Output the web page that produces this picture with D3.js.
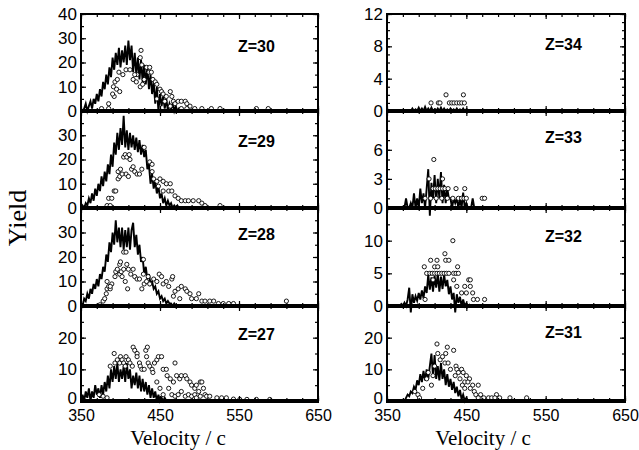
<!DOCTYPE html>
<html>
<head>
<meta charset="utf-8">
<script src="https://cdn.jsdelivr.net/npm/d3@7/dist/d3.min.js"></script>
<style>
  body { margin: 0; background: #fff; }
  .tick text { font-family: "Liberation Sans", Arial, sans-serif; font-size: 17px; fill: #000; }
  .xlab .tick text { font-size: 16px; }
  .tick line { stroke: #000; stroke-width: 1.2; }
</style>
</head>
<body>
<svg width="639" height="450"></svg>
<script>
// x axis
var xDomain = [350, 650];
var xTickLabels = [350, 450, 550, 650];
var binWidth = 2;

// simulated yield (histogram line), one value per 2 c bin from the start velocity
var z30Start = 352;
var z30Sim = [0,1,3,0,2,4,1,5,3,7,4,9,6,12,9,15,11,18,14,22,17,24,19,26,18,25,20,27,19,29,21,27,16,24,15,22,13,21,12,19,11,18,9,15,7,12,3,10,0,7,2,6,1,5,0,3,1,3,0,2,0,1,0,1,0,0];
var z29Start = 350;
var z29Sim = [0,1,0,2,1,4,2,6,3,8,5,10,7,13,9,15,11,18,14,22,17,27,22,31,24,33,26,38,25,32,24,31,25,30,24,29,23,28,22,26,21,24,16,18,10,14,8,11,6,9,4,6,2,4,1,3,1,2,0,1,0,1,0,0];
var z28Start = 350;
var z28Sim = [1,0,3,2,5,3,7,5,9,7,11,8,13,11,16,14,21,18,26,22,30,25,35,26,32,24,32,23,31,24,32,23,31,34,24,29,21,25,18,20,13,16,11,13,9,10,7,8,5,6,3,4,2,3,1,2,1,1,0,1,0,0];
var z27Start = 350;
var z27Sim = [0,2,0,3,1,4,0,3,1,5,2,4,1,5,2,6,3,8,4,10,6,11,7,12,6,10,7,11,6,12,7,10,4,8,5,9,4,8,3,7,3,6,2,5,1,4,1,3,0,2,0,1,0,1,0,0];
var z34Start = 380;
var z34Sim = [0,0.3,0,0.2,0,0.4,0,0.3,0,0.5,0,0.3,0,0.4,0,0.2,0,0.3,0,0.4,0,0.3,0,0.2,0,0.3,0,0.2,0,0.3,0,0.2,0,0.3,0,0.2,0,0.1,0,0.1,0];
var z33Start = 370;
var z33Sim = [0,0,1,0,0,0.5,0,1.5,0,1,0,2,0.5,1.5,0,2,4,-0.8,2.6,1,3.4,0.5,3,1,3.7,0.5,2.4,0.5,2,1,1,0,1,0.5,1,0,1,0,1.6,0,0.5,0,0,0,1,0];
var z32Start = 366;
var z32Sim = [0,0.3,0,0.5,0,1,2.8,-1,1.8,0.5,1.5,0.8,2,1,2.4,1.2,3,2,4.8,2.5,4.4,2.2,4.6,2.8,5,2.2,4.5,2.6,4.8,3,4,1.8,3,1,2,-1,1.8,0.5,1.4,0,1,0,0.4,0,0.2,0];
var z31Start = 368;
var z31Sim = [0,0.3,0,1,2,1.5,3,2.5,4.5,3.5,6.5,5,8.5,6,9.5,6.5,10,7,11,15,8,14.5,7,11,6.5,12,7,10,5,8.5,4.5,7,3.5,6,2.5,4.5,1.5,3.5,0.5,2,0,1,0,0.3,0];

// measured yield, [velocity, yield]
var z30Exp = [[376,1],[385,1],[385,3],[391,10],[393,12],[395,9],[399,8],[392,6],[390,7],[396,13],[398,16],[403,15],[407,17],[412,17],[416,13],[420,12],[425,10],[428,11],[421,15],[426,25],[425,22],[427,19],[433,18],[436,16],[437,18],[439,16],[441,13],[444,12],[446,11],[450,9],[452,8],[454,7],[458,6],[463,8],[465,6],[467,4],[469,3],[473,4],[477,4],[482,4],[484,3],[488,2],[494,1],[503,1],[515,1],[526,1],[572,1],[587,1],[446,5],[456,4],[463,2],[477,1],[484,1],[430,13],[418,15]];
var z29Exp = [[383,1],[387,1],[385,4],[389,4],[392,7],[394,7],[397,12],[399,13],[397,15],[400,16],[404,21],[406,22],[408,21],[411,22],[407,14],[410,13],[414,16],[416,17],[418,15],[421,14],[424,14],[427,16],[430,25],[437,19],[440,18],[440,15],[442,12],[446,11],[448,9],[450,12],[454,11],[458,10],[463,10],[461,7],[465,7],[454,7],[469,5],[473,4],[477,3],[482,3],[486,3],[492,3],[499,3],[503,2],[507,1],[526,1],[402,14],[412,20]];
var z28Exp = [[374,0.5],[378,2],[380,3],[382,5],[383,7],[385,8],[387,7],[389,9],[383,10],[387,8],[393,12],[394,14],[396,15],[399,17],[400,18],[399,13],[401,14],[404,15],[408,17],[410,15],[404,22],[407,22],[409,7],[406,10],[402,12],[413,13],[416,15],[418,12],[421,11],[424,11],[427,7],[429,13],[429,19],[430,9],[433,10],[435,12],[437,9],[442,11],[446,10],[449,13],[452,12],[454,9],[458,10],[461,8],[465,11],[466,12],[469,6],[473,7],[477,8],[482,7],[484,6],[467,4],[475,3],[488,5],[490,3],[496,3],[499,5],[503,2],[507,2],[513,2],[518,2],[524,1],[530,1],[537,1],[543,1],[610,2]];
var z27Exp = [[392,15],[393,12],[396,13],[399,12],[400,14],[402,13],[404,12],[406,11],[407,14],[410,13],[412,12],[415,11],[416,17],[418,16],[421,15],[421,14],[424,12],[425,11],[427,10],[430,10],[432,16],[434,17],[433,14],[435,12],[437,11],[440,10],[441,9],[443,12],[446,13],[448,14],[452,14],[454,10],[458,10],[459,8],[463,7],[467,6],[469,12],[471,8],[475,7],[477,8],[482,8],[484,7],[488,6],[490,5],[494,4],[496,5],[501,6],[503,6],[499,3],[505,4],[507,2],[509,1.5],[513,1.5],[522,1],[528,1],[534,1],[543,0.6],[551,0.5],[560,0.5],[572,0.5],[589,0.5],[446,6],[450,4],[454,2],[461,4],[465,2],[469,1.5],[473,2],[477,3],[482,1.5],[486,2],[490,1.5],[494,2],[496,1],[501,1.5],[378,1.5],[383,1],[373,2],[387,11]];
var z34Exp = [[405.5,1],[414.7,1],[416.8,1],[424.4,2],[428.6,1],[431.6,1],[434.5,1],[437.9,1],[441.2,1],[444.2,1],[447.5,1],[446.3,2]];
var z33Exp = [[409,5],[403,3],[420,3],[408,2],[411,2],[414,2],[417,2],[420,2],[423,2],[427,2],[437,2],[448,2],[398,1],[405,1],[412,1],[419,1],[426,1],[433,1],[440,1],[444,1],[447,1],[450,1],[470,1],[473,1]];
var z32Exp = [[433,10],[423,8],[405,7],[413,7],[424,7],[428,7],[397,6],[410,6],[414,6],[439,6],[400,5],[404,5],[407,5],[410,5],[413,5],[416,5],[419,5],[422,5],[425,5],[428,5],[434,5],[437,5],[440,5],[408,4],[434,4],[453,4],[455,4],[438,3],[448,3],[455,3],[444,2],[450,2],[458,2],[398,1],[459,1],[464,1],[473,1]];
var z31Exp = [[413,18],[426,17],[434,16],[414,15],[424,15],[417,13],[420,14],[423,12],[427,12],[410,11],[437,11],[430,10],[438,10],[444,10],[402,9],[440,9],[446,9],[450,8],[436,8],[442,7],[454,7],[400,7],[448,6],[452,6],[458,5],[406,5],[445,5],[465,5],[448,4],[455,4],[460,3],[385,3],[462,2],[468,2],[389,2],[488,2],[391,1],[465,1],[472,1],[478,1],[482,1],[486,1],[492,1],[505,1],[526,1],[395,4],[408,8]];

// panel setup (col, row, y range and ticks)
var panels = [
  {z: "Z=30", col: 0, row: 0, yMax: 40, labels: [0,10,20,30,40], minor: 5, start: z30Start, sim: z30Sim, exp: z30Exp, ly: 51.5},
  {z: "Z=29", col: 0, row: 1, yMax: 40, labels: [0,10,20,30], minor: 5, start: z29Start, sim: z29Sim, exp: z29Exp, ly: 146.5},
  {z: "Z=28", col: 0, row: 2, yMax: 40, labels: [0,10,20,30], minor: 5, start: z28Start, sim: z28Sim, exp: z28Exp, ly: 240},
  {z: "Z=27", col: 0, row: 3, yMax: 30, labels: [0,10,20], minor: 5, start: z27Start, sim: z27Sim, exp: z27Exp, ly: 340},
  {z: "Z=34", col: 1, row: 0, yMax: 12, labels: [0,4,8,12], minor: 1, start: z34Start, sim: z34Sim, exp: z34Exp, ly: 50},
  {z: "Z=33", col: 1, row: 1, yMax: 10, labels: [0,3,6], minor: 1, start: z33Start, sim: z33Sim, exp: z33Exp, ly: 143},
  {z: "Z=32", col: 1, row: 2, yMax: 15, labels: [0,5,10], minor: 2.5, start: z32Start, sim: z32Sim, exp: z32Exp, ly: 242},
  {z: "Z=31", col: 1, row: 3, yMax: 30, labels: [0,10,20], minor: 5, start: z31Start, sim: z31Sim, exp: z31Exp, ly: 338}
];

var svg = d3.select("svg");
var colX = [[81, 318], [387, 625]];
var rowY = [14, 111, 208, 306, 401];
var xMinor = d3.range(350, 651, 20);

panels.forEach(function(p) {
  var x = d3.scaleLinear().domain(xDomain).range(colX[p.col]);
  var y = d3.scaleLinear().domain([0, p.yMax]).range([rowY[p.row + 1], rowY[p.row]]);
  var g = svg.append("g");
  var yMinor = d3.range(0, p.yMax + 0.001, p.minor);

  // simulation line
  var line = d3.line()
    .x(function(d, i) { return x(p.start + i * binWidth); })
    .y(function(d) { return y(d); });
  g.append("path")
    .datum(p.sim)
    .attr("d", line)
    .attr("fill", "none")
    .attr("stroke", "#000")
    .attr("stroke-width", 1.9);

  // measured points
  g.selectAll("circle")
    .data(p.exp)
    .enter().append("circle")
    .attr("cx", function(d) { return x(d[0]); })
    .attr("cy", function(d) { return y(d[1]); })
    .attr("r", 2.1)
    .attr("fill", "#fff")
    .attr("stroke", "#000")
    .attr("stroke-width", 0.9);

  // ticks, all pointing inward
  var bottom = rowY[p.row + 1], top = rowY[p.row];
  var l = colX[p.col][0], r = colX[p.col][1];
  function addAxis(axis, tx, ty) {
    var a = g.append("g").attr("transform", "translate(" + tx + "," + ty + ")").call(axis);
    a.select(".domain").remove();
    return a;
  }
  addAxis(d3.axisBottom(x).tickValues(xMinor).tickSize(-3).tickFormat(""), 0, bottom);
  addAxis(d3.axisTop(x).tickValues(xMinor).tickSize(-3).tickFormat(""), 0, top);
  addAxis(d3.axisTop(x).tickValues(xTickLabels).tickSize(-5).tickFormat(""), 0, top);
  addAxis(d3.axisLeft(y).tickValues(yMinor).tickSize(-3).tickFormat(""), l, 0);
  addAxis(d3.axisRight(y).tickValues(yMinor).tickSize(-3).tickFormat(""), r, 0);
  addAxis(d3.axisRight(y).tickValues(p.labels).tickSize(-5).tickFormat(""), r, 0);
  var yAx = addAxis(d3.axisLeft(y).tickValues(p.labels).tickSize(-5).tickPadding(4), l, 0);
  if (p.row === 3) {
    // bottom "0" sits a touch higher so it clears the velocity labels
    yAx.selectAll("text").filter(function(d) { return d === 0; }).attr("dy", "0.12em");
    addAxis(d3.axisBottom(x).tickValues(xTickLabels).tickSize(-5).tickPadding(9), 0, bottom)
      .attr("class", "xlab");
  } else {
    addAxis(d3.axisBottom(x).tickValues(xTickLabels).tickSize(-5).tickFormat(""), 0, bottom);
  }

  // frame
  g.append("rect")
    .attr("x", l).attr("y", top)
    .attr("width", r - l).attr("height", bottom - top)
    .attr("fill", "none").attr("stroke", "#000").attr("stroke-width", 2);
  g.append("line")
    .attr("x1", l - 1).attr("x2", r + 1)
    .attr("y1", y(0)).attr("y2", y(0))
    .attr("stroke", "#000").attr("stroke-width", 4);

  // Z label
  g.append("text")
    .attr("x", p.col === 0 ? 238 : 545)
    .attr("y", p.ly)
    .style("font-family", "'Liberation Sans', Arial, sans-serif")
    .style("font-weight", "bold")
    .style("font-size", "16px")
    .text(p.z);
});

// axis titles
svg.append("text")
  .attr("x", 178).attr("y", 444.5)
  .attr("text-anchor", "middle")
  .style("font-family", "'Liberation Serif', 'Times New Roman', serif")
  .style("font-size", "21px")
  .text("Velocity / c");
svg.append("text")
  .attr("x", 483).attr("y", 444.5)
  .attr("text-anchor", "middle")
  .style("font-family", "'Liberation Serif', 'Times New Roman', serif")
  .style("font-size", "21px")
  .text("Velocity / c");
svg.append("text")
  .attr("transform", "translate(26,218) rotate(-90)")
  .attr("text-anchor", "middle")
  .style("font-family", "'Liberation Serif', 'Times New Roman', serif")
  .style("font-size", "26px")
  .text("Yield");
</script>
</body>
</html>
